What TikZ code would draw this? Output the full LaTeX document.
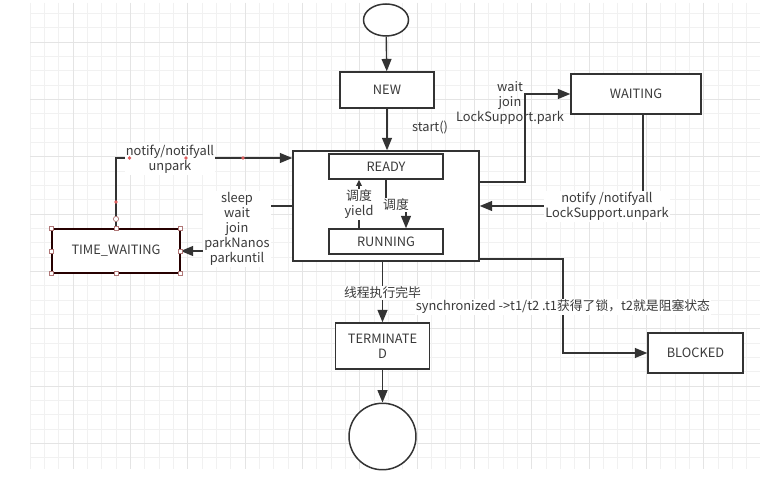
\documentclass[tikz,border=0pt]{standalone}
\usepackage{fontspec}
\setmainfont{Noto Sans CJK SC}
\usetikzlibrary{arrows.meta,shapes.geometric}
\definecolor{ink}{HTML}{333333}
\definecolor{txt}{HTML}{3a3a3a}
\definecolor{gridminor}{HTML}{F1F1F1}
\definecolor{gridmajor}{HTML}{E4E4E4}
\definecolor{selred}{HTML}{E06060}
\definecolor{selframe}{HTML}{B07878}
\begin{document}
\begin{tikzpicture}[x=0.02cm,y=-0.02cm,
  every node/.style={font=\fontsize{7.3}{8.6}\selectfont, text=txt},
  box/.style={draw=ink, line width=0.85pt, fill=white, rectangle, inner sep=0pt},
  oval/.style={draw=ink, line width=0.85pt, fill=white, ellipse, inner sep=0pt},
  link/.style={draw=ink, line width=0.8pt, -{Triangle[length=7pt,width=5.6pt]}},
  smalllink/.style={draw=ink, line width=0.8pt, -{Triangle[length=3.5pt,width=3.2pt]}},
  lbl/.style={align=center, inner sep=0.8pt},
  lblbg/.style={lbl, fill=white},
  handle/.style={draw=selframe, fill=white, line width=0.4pt, rectangle, minimum size=2.4pt, inner sep=0pt},
  dot/.style={fill=selred, circle, minimum size=2.2pt, inner sep=0pt},
  ring/.style={draw=selframe, fill=white, line width=0.4pt, circle, minimum size=3pt, inner sep=0pt}
]
\useasboundingbox (0,0) rectangle (760,496);
\fill[white] (0,0) rectangle (760,496);

% background grid
\foreach \i in {0,...,50}
  \draw[gridminor, line width=0.4pt] ({30+\i*14.333},3) -- ({30+\i*14.333},469);
\foreach \j in {0,...,31}
  \draw[gridminor, line width=0.4pt] (30,{13.3+\j*14.333}) -- (760,{13.3+\j*14.333});
\foreach \i in {0,...,12}
  \draw[gridmajor, line width=0.4pt] ({73+\i*57.333},3) -- ({73+\i*57.333},469);
\foreach \j in {0,...,7}
  \draw[gridmajor, line width=0.4pt] (30,{41.9+\j*57.333}) -- (760,{41.9+\j*57.333});

% states
\node[oval, minimum width=0.9cm, minimum height=0.64cm] (start) at (386,20) {};
\node[box, minimum width=1.88cm, minimum height=0.72cm] (new) at (387,90) {NEW};
\node[box, minimum width=3.72cm, minimum height=2.2cm] (run) at (386,206) {};
\node[box, minimum width=2.28cm, minimum height=0.5cm] (ready) at (386,166.5) {READY};
\node[box, minimum width=2.28cm, minimum height=0.5cm] (running) at (386,241.5) {RUNNING};
\node[box, draw=black!85!red, minimum width=2.56cm, minimum height=0.88cm] (tw) at (116,251) {TIME\_WAITING};
\node[box, minimum width=2.6cm, minimum height=0.8cm] (waiting) at (636,94) {WAITING};
\node[box, minimum width=1.88cm, minimum height=0.92cm, align=center] (term) at (382.5,346) {TERMINATE\\D};
\node[box, minimum width=1.9cm, minimum height=0.8cm] (blocked) at (695.5,353) {BLOCKED};
\node[oval, minimum width=1.34cm, minimum height=1.33cm] (end) at (382.5,436.5) {};

% transitions
\draw[link] (start) -- (new);
\draw[link] (new) -- (run.north -| new.south);
\node[lbl] (lstart) at (430,128) {start()};

\draw[link] (tw.north) |- (run.west |- 0,158);
\node[lblbg] (lnotify) at (170,159) {notify/notifyall\\unpark};

\draw[link] (run.west) -| (237,251) -- (tw.east);
\node[lblbg] (lsleep) at (237,229) {sleep\\wait\\join\\parkNanos\\parkuntil};

\draw[link] (run.east |- 0,182) -| (525,94) -- (waiting.west);
\node[lbl] (lwait) at (510,103) {wait\\join\\LockSupport.park};

\draw[link] (waiting.south -| 643,0) |- (run.east);
\node[lblbg] (lunpark) at (607,206.5) {notify /notifyall\\LockSupport.unpark};

\draw[link] (run.south -| term.north) -- (term.north);
\node[lblbg] (ldone) at (382.5,293) {线程执行完毕};

\draw[link] (run.east |- 0,259) -| (563,353) -- (blocked.west);
\node[lblbg] (lsync) at (563,307) {synchronized ->t1/t2 .t1获得了锁，t2就是阻塞状态};

\draw[link] (term) -- (end);

\draw[smalllink] (running.north -| 359,0) -- (ready.south -| 359,0);
\node[lblbg] (lyield) at (359,204.5) {调度\\yield};
\draw[link] (ready.south -| 386,0) -- (386,207) -| (running.north -| 406,0);
\node[lblbg] (lsched) at (396,205) {调度};

% selection handles
\foreach \a in {north west,north,north east,west,east,south west,south,south east}
  \node[handle] at (tw.\a) {};
\node[dot] at (129.5,158) {};
\node[dot] at (186,158) {};
\node[dot] at (243,158) {};
\node[dot] at (116,202) {};
\node[ring] at (116,219) {};
\end{tikzpicture}
\end{document}
